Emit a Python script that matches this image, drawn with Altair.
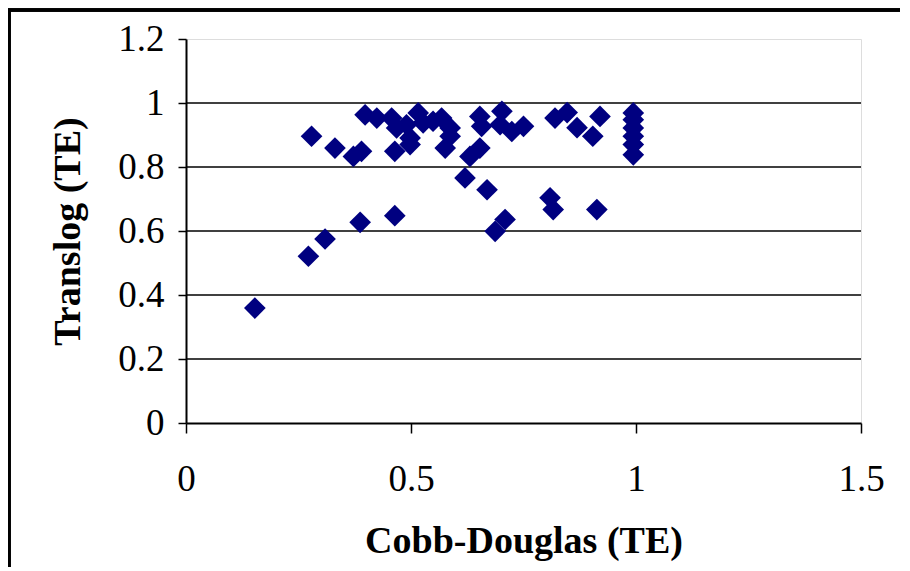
import altair as alt
import pandas as pd

cobb_douglas = [0.153, 0.272, 0.309, 0.387, 0.464, 0.279, 0.331, 0.372, 0.390, 0.398,
                0.424, 0.457, 0.468, 0.464, 0.490, 0.498, 0.498, 0.516, 0.527, 0.549,
                0.568, 0.587, 0.587, 0.576, 0.653, 0.657, 0.631, 0.653, 0.620, 0.669,
                0.702, 0.698, 0.724, 0.750, 0.687, 0.709, 0.809, 0.816, 0.913, 0.820,
                0.847, 0.869, 0.904, 0.920, 0.994, 0.994, 0.994, 0.994, 0.994, 0.994]
translog = [0.359, 0.521, 0.575, 0.627, 0.648, 0.896, 0.859, 0.833, 0.849, 0.963,
            0.953, 0.953, 0.922, 0.849, 0.932, 0.891, 0.870, 0.969, 0.938, 0.943,
            0.953, 0.922, 0.896, 0.859, 0.958, 0.927, 0.833, 0.859, 0.766, 0.729,
            0.974, 0.932, 0.911, 0.927, 0.599, 0.636, 0.704, 0.667, 0.667, 0.953,
            0.970, 0.923, 0.896, 0.958, 0.969, 0.948, 0.922, 0.896, 0.870, 0.838]
grid_levels = [0.2, 0.4, 0.6, 0.8, 1.0]
x_ticks = [0, 0.5, 1, 1.5]
y_ticks = [0, 0.2, 0.4, 0.6, 0.8, 1.0, 1.2]

df = pd.DataFrame({"cd": cobb_douglas, "tl": translog})
grid_df = pd.DataFrame({"g": grid_levels})

FONT = "Liberation Serif"

xscale = alt.Scale(domain=[0, 1.5], nice=False, zero=False)
yscale = alt.Scale(domain=[0, 1.2], nice=False, zero=False)

grid = alt.Chart(grid_df).mark_rule(color="black", strokeWidth=1.5).encode(
    y=alt.Y("g:Q", scale=yscale)
)

points = alt.Chart(df).mark_point(
    shape="diamond", filled=True, color="#000080", size=470, opacity=1
).encode(
    x=alt.X("cd:Q", scale=xscale, title="Cobb-Douglas (TE)",
            axis=alt.Axis(values=x_ticks, grid=False, domainColor="black", domainWidth=2,
                          tickColor="black", tickSize=10, tickWidth=1.5,
                          labelFont=FONT, labelFontSize=37, labelColor="black",
                          labelPadding=28, labelFlush=False, format="~g",
                          titleFont=FONT, titleFontSize=38, titleFontWeight="bold",
                          titleColor="black", titlePadding=25)),
    y=alt.Y("tl:Q", scale=yscale, title="Translog (TE)",
            axis=alt.Axis(values=y_ticks, grid=False, domainColor="black", domainWidth=2,
                          tickColor="black", tickSize=8, tickWidth=1.5,
                          labelFont=FONT, labelFontSize=37, labelColor="black",
                          labelPadding=14, labelFlush=False,
                          format="~g",
                          titleFont=FONT, titleFontSize=38, titleFontWeight="bold",
                          titleColor="black", titlePadding=30))
)

top_border = alt.Chart(grid_df).mark_rule(color="black", strokeWidth=3).encode(
    x=alt.value(-178), x2=alt.value(714), y=alt.value(-29)
)
left_border = alt.Chart(grid_df).mark_rule(color="black", strokeWidth=3).encode(
    x=alt.value(-177), y=alt.value(-30), y2=alt.value(600)
)

chart = alt.layer(grid, points, top_border, left_border).properties(
    width=675, height=384,
    autosize=alt.AutoSizeParams(type="none"),
    padding={"left": 178, "top": 31, "right": 40, "bottom": 144},
).configure_view(
    stroke="#888888", strokeWidth=3
).configure(background="white")

chart.save("out.html", embed_options={"renderer": "svg", "actions": False})
